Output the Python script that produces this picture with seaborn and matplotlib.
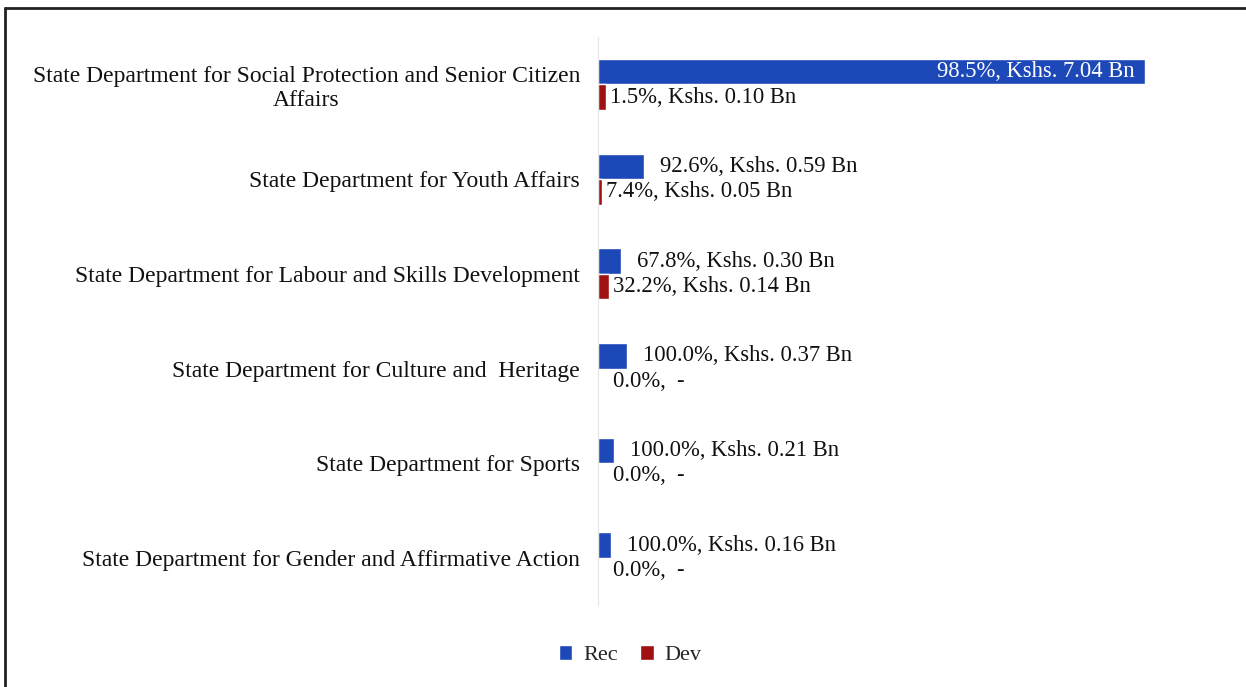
# Recurrent vs development spending by state department (horizontal grouped bars)

import matplotlib
matplotlib.use("Agg")
import matplotlib.pyplot as plt
from matplotlib.lines import Line2D
from matplotlib.patches import Patch
import seaborn as sns
import pandas as pd

# ================================ Data ================================
departments = [
    "State Department for Social Protection and Senior Citizen\nAffairs",
    "State Department for Youth Affairs",
    "State Department for Labour and Skills Development",
    "State Department for Culture and  Heritage",
    "State Department for Sports",
    "State Department for Gender and Affirmative Action",
]
rec_bn = [7.04, 0.59, 0.30, 0.37, 0.21, 0.16]
dev_bn = [0.10, 0.05, 0.14, 0.0, 0.0, 0.0]
rec_pct = [98.5, 92.6, 67.8, 100.0, 100.0, 100.0]
dev_pct = [1.5, 7.4, 32.2, 0.0, 0.0, 0.0]

rec_color = "#1d48b8"
dev_color = "#a01212"

# long form for seaborn
df = pd.concat([
    pd.DataFrame({"dept": departments, "value": rec_bn, "pct": rec_pct, "type": "Rec"}),
    pd.DataFrame({"dept": departments, "value": dev_bn, "pct": dev_pct, "type": "Dev"}),
], ignore_index=True)

# ================================ Plot ================================
sns.set_style("white")
plt.rcParams["font.family"] = ["Liberation Serif", "DejaVu Serif"]

fig = plt.figure(figsize=(12.46, 6.87), dpi=100)
ax = fig.add_axes([0.48, 0.119, 0.48, 0.827])

sns.barplot(data=df, x="value", y="dept", hue="type", orient="h",
            palette={"Rec": rec_color, "Dev": dev_color}, width=0.54,
            saturation=1, legend=False, ax=ax)

ax.set_xlim(0, 7.7)
ax.set_xlabel("")
ax.set_ylabel("")
ax.set_xticks([])
ax.tick_params(axis="y", length=0, pad=13, labelsize=17, labelcolor="#111111")
for lab in ax.get_yticklabels():
    lab.set_multialignment("center")
    lab.set_linespacing(1.2)
for side in ["top", "right", "bottom"]:
    ax.spines[side].set_visible(False)
ax.spines["left"].set_color("#e6e6e6")
ax.spines["left"].set_linewidth(0.8)

# value labels
lab_size = 16.3
rec_bars, dev_bars = ax.containers[0], ax.containers[1]
for bar, v, p in zip(rec_bars, rec_bn, rec_pct):
    y = bar.get_y() + bar.get_height() / 2
    txt = f"{p:.1f}%, Kshs. {v:.2f} Bn"
    if v > 3:
        ax.annotate(txt, (bar.get_width(), y), xytext=(-10, 0), textcoords="offset pixels",
                    ha="right", va="center", color="white", fontsize=lab_size)
    else:
        ax.annotate(txt, (bar.get_width(), y), xytext=(16, 0), textcoords="offset pixels",
                    ha="left", va="center", color="#111111", fontsize=lab_size)
for bar, v, p in zip(dev_bars, dev_bn, dev_pct):
    y = bar.get_y() + bar.get_height() / 2
    if v > 0:
        txt = f"{p:.1f}%, Kshs. {v:.2f} Bn"
        off = 4
    else:
        txt = f"{p:.1f}%,  -"
        off = 15
    ax.annotate(txt, (bar.get_width(), y), xytext=(off, 0), textcoords="offset pixels",
                ha="left", va="center", color="#111111", fontsize=lab_size)

# legend
handles = [Patch(facecolor=rec_color, label="Rec"), Patch(facecolor=dev_color, label="Dev")]
fig.legend(handles=handles, loc="center", bbox_to_anchor=(0.506, 0.046), ncol=2,
           frameon=False, fontsize=16, handlelength=0.6, handleheight=0.6,
           handletextpad=0.5, columnspacing=1.0)

# scanned-page frame (left and top edges)
fig.add_artist(Line2D([5 / 1246, 5 / 1246], [0, 1 - 8 / 687], color="#222222", lw=2,
                      transform=fig.transFigure))
fig.add_artist(Line2D([5 / 1246, 1], [1 - 8 / 687, 1 - 8 / 687], color="#222222", lw=2,
                      transform=fig.transFigure))

fig.savefig("out.png", dpi=100)
